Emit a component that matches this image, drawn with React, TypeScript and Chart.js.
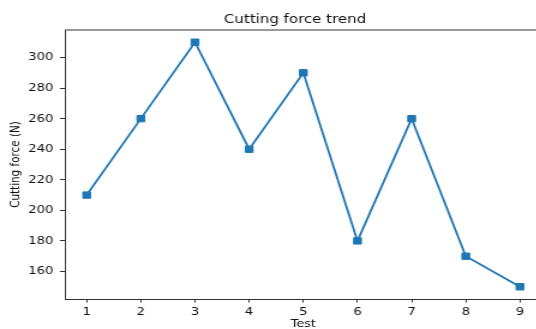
import React, { useEffect, useRef } from "react";
import { Chart, registerables } from "chart.js";

Chart.register(...registerables);

const tests = [1, 2, 3, 4, 5, 6, 7, 8, 9];
const cuttingForce = [210, 260, 310, 240, 290, 180, 260, 170, 150];
const yTicks = [160, 180, 200, 220, 240, 260, 280, 300];
const xTicks = [1, 2, 3, 4, 5, 6, 7, 8, 9];
const titleText = "Cutting force trend";
const xLabel = "Test";
const yLabel = "Cutting force (N)";

// the reference image is stretched horizontally; draw narrow and stretch
const STRETCH = 1.2;
const CANVAS_W = 460;
const CANVAS_H = 329;
const AREA_LEFT = 65 / STRETCH;
const AREA_RIGHT = 541.6 / STRETCH;

export default function App() {
  const ref = useRef<HTMLCanvasElement | null>(null);

  useEffect(() => {
    if (!ref.current) return;
    const framePlugin = {
      id: "frame",
      afterDraw(chart: any) {
        const { ctx, chartArea } = chart;
        ctx.save();
        ctx.strokeStyle = "#333";
        ctx.lineWidth = 1;
        ctx.beginPath();
        ctx.moveTo(chartArea.left, chartArea.top);
        ctx.lineTo(chartArea.right, chartArea.top);
        ctx.lineTo(chartArea.right, chartArea.bottom);
        ctx.stroke();
        ctx.fillStyle = "#111";
        ctx.font = "12.5px 'DejaVu Sans'";
        ctx.textAlign = "center";
        ctx.textBaseline = "alphabetic";
        ctx.fillText(titleText, 295 / STRETCH, 22.5);
        ctx.restore();
      },
    };
    const chart = new Chart(ref.current, {
      type: "line",
      data: {
        datasets: [
          {
            data: tests.map((t, i) => ({ x: t, y: cuttingForce[i] })),
            borderColor: "#1f77b4",
            backgroundColor: "#1f77b4",
            borderWidth: 1.8,
            pointStyle: "rect",
            pointRadius: 4.5,
            pointBorderWidth: 1,
            pointBorderColor: "#1f77b4",
            pointBackgroundColor: "#1f77b4",
            tension: 0,
          },
        ],
      },
      options: {
        animation: false,
        responsive: false,
        layout: { padding: { top: 30, left: 0, right: CANVAS_W - AREA_RIGHT, bottom: 0 } },
        plugins: { legend: { display: false }, tooltip: { enabled: false }, title: { display: false } },
        scales: {
          x: {
            type: "linear",
            min: 0.6,
            max: 9.4,
            afterBuildTicks: (scale: any) => {
              scale.ticks = xTicks.map((v) => ({ value: v }));
            },
            afterFit: (scale: any) => {
              scale.height = 30;
            },
            grid: { display: true, drawOnChartArea: false, tickLength: 3.5, tickColor: "#333", tickWidth: 1 },
            border: { display: true, color: "#333", width: 1 },
            ticks: {
              font: { family: "'DejaVu Sans'", size: 11 },
              color: "#111",
              padding: 3,
              maxRotation: 0,
              autoSkip: false,
              callback: (v: any) => String(v),
            },
            title: {
              display: true,
              text: xLabel,
              font: { family: "'DejaVu Sans'", size: 10.6, lineHeight: 0.8 },
              color: "#111",
              padding: { top: 0, bottom: 0.3 },
            },
          },
          y: {
            type: "linear",
            min: 142,
            max: 318,
            afterBuildTicks: (scale: any) => {
              scale.ticks = yTicks.map((v) => ({ value: v }));
            },
            afterFit: (scale: any) => {
              scale.width = AREA_LEFT;
            },
            grid: { display: true, drawOnChartArea: false, tickLength: 4.2, tickColor: "#333", tickWidth: 1 },
            border: { display: true, color: "#333", width: 1 },
            ticks: {
              font: { family: "'DejaVu Sans'", size: 11 },
              color: "#111",
              padding: 5.5,
              autoSkip: false,
              callback: (v: any) => String(v),
            },
            title: {
              display: true,
              text: yLabel,
              font: { family: "'DejaVu Sans'", size: 10.4 },
              color: "#111",
              padding: { top: 6.7, bottom: 0 },
            },
          },
        },
      },
      plugins: [framePlugin],
    });
    return () => chart.destroy();
  }, []);

  return (
    <div style={{ position: "fixed", top: 0, left: 0, width: 536, height: 329, overflow: "hidden", background: "#fff" }}>
      <div style={{ width: CANVAS_W, height: CANVAS_H, transform: `scaleX(${STRETCH})`, transformOrigin: "0 0" }}>
        <canvas ref={ref} width={CANVAS_W} height={CANVAS_H} style={{ display: "block", width: CANVAS_W, height: CANVAS_H }} />
      </div>
    </div>
  );
}
